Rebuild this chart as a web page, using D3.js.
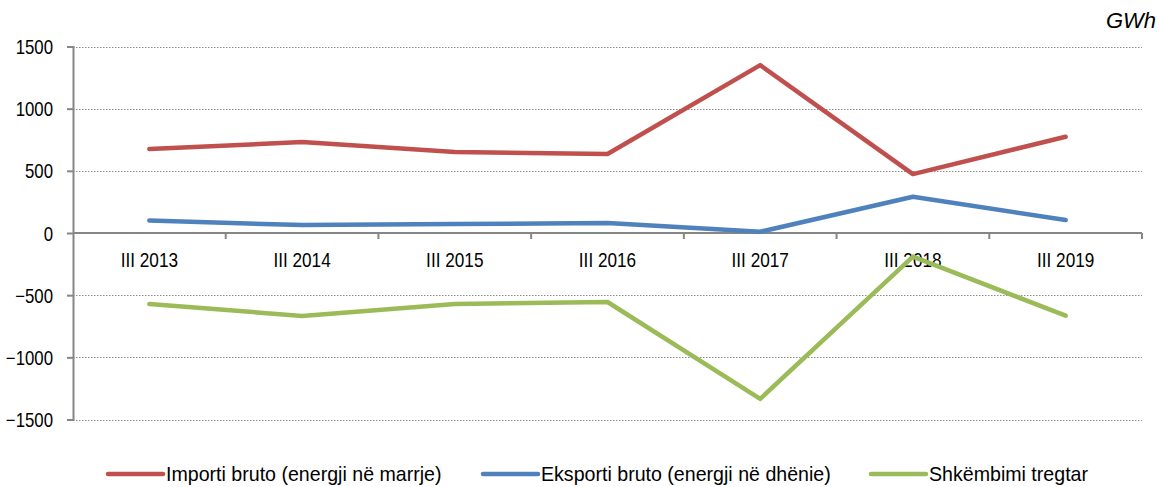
<!DOCTYPE html>
<html lang="en">
<head>
    <meta charset="utf-8">
    <title>Importi, eksporti dhe shkëmbimi</title>
    <script type="text/javascript" src="https://d3js.org/d3.v7.min.js"></script>
    <style type="text/css">
        body { margin: 0; background: #fff; }
        svg { font-family: "Liberation Sans", Arial, sans-serif; }
    </style>
</head>
<body>
<script type="text/javascript">

    var categories = ["III 2013", "III 2014", "III 2015", "III 2016", "III 2017", "III 2018", "III 2019"];
    var importi = [675, 731, 651, 635, 1350, 474, 774];
    var eksporti = [100, 64, 72, 80, 10, 292, 104];
    var shkembimi = [-571, -667, -571, -555, -1334, -190, -665];
    var yTicks = [-1500, -1000, -500, 0, 500, 1000, 1500];
    var seriesNames = ["Importi bruto (energji në marrje)", "Eksporti bruto (energji në dhënie)", "Shkëmbimi tregtar"];

    var width = 1159, height = 487;
    var plotLeft = 73, plotRight = 1142, plotTop = 46.5, plotBottom = 419.5;
    var axisColor = "#868686";
    var colors = ["#C0504D", "#4F81BD", "#9BBB59"];

    var svg = d3.select("body").append("svg")
        .attr("width", width)
        .attr("height", height);

    var x = d3.scaleBand().domain(categories).range([plotLeft, plotRight]);
    var y = d3.scaleLinear().domain([-1500, 1500]).range([plotBottom, plotTop]);

    // dotted gridlines
    svg.selectAll(".grid")
        .data(yTicks.filter(function(d) { return d !== 0; }))
        .enter().append("line")
        .attr("x1", plotLeft).attr("x2", plotRight)
        .attr("y1", function(d) { return Math.round(y(d)) + 0.5; })
        .attr("y2", function(d) { return Math.round(y(d)) + 0.5; })
        .attr("stroke", "#8c8c8c")
        .attr("stroke-width", 1)
        .attr("stroke-dasharray", "1.5,1.5");

    // y axis
    var yAxis = d3.axisLeft(y).tickValues(yTicks).tickSize(6).tickFormat(d3.format("d"));
    var gy = svg.append("g").attr("transform", "translate(" + plotLeft + ",0)").call(yAxis);
    gy.select(".domain").attr("stroke", axisColor).attr("stroke-width", 2);
    gy.selectAll(".tick line").attr("stroke", axisColor).attr("stroke-width", 2);
    // narrow-looking labels: squeeze horizontally
    gy.selectAll(".tick text")
        .attr("x", null).attr("dy", null)
        .attr("transform", "translate(-20,7) scale(0.84,1)")
        .attr("font-size", 20).attr("fill", "#000")
        .attr("font-family", "'Liberation Sans', Arial, sans-serif");

    // x axis at zero
    var gx = svg.append("g").attr("transform", "translate(0," + y(0) + ")");
    gx.append("line").attr("x1", plotLeft).attr("x2", plotRight)
        .attr("stroke", axisColor).attr("stroke-width", 2);
    var bounds = categories.map(function(c) { return x(c) + x.bandwidth(); });
    gx.selectAll(".xt").data(bounds).enter().append("line")
        .attr("x1", function(d) { return d; }).attr("x2", function(d) { return d; })
        .attr("y1", 0).attr("y2", 6)
        .attr("stroke", axisColor).attr("stroke-width", 2);
    gx.selectAll(".xl").data(categories).enter().append("text")
        .attr("transform", function(d) {
            return "translate(" + (x(d) + x.bandwidth() / 2) + ",34) scale(0.86,1)";
        })
        .attr("text-anchor", "middle")
        .attr("font-size", 20)
        .text(function(d) { return d; });

    // lines
    var line = d3.line()
        .x(function(d, i) { return x(categories[i]) + x.bandwidth() / 2; })
        .y(function(d) { return y(d); });

    [importi, eksporti, shkembimi].forEach(function(s, i) {
        svg.append("path")
            .datum(s)
            .attr("d", line)
            .attr("fill", "none")
            .attr("stroke", colors[i])
            .attr("stroke-width", 4.5)
            .attr("stroke-linecap", "round")
            .attr("stroke-linejoin", "round");
    });

    // unit label
    svg.append("text")
        .attr("x", 1156).attr("y", 28)
        .attr("text-anchor", "end")
        .attr("font-size", 22)
        .attr("font-style", "italic")
        .text("GWh");

    // legend
    var legendX = [108, 483, 871];
    var lg = svg.selectAll(".legend").data(seriesNames).enter().append("g")
        .attr("transform", function(d, i) { return "translate(" + legendX[i] + ",474)"; });
    lg.append("line")
        .attr("x1", 0).attr("x2", 55)
        .attr("stroke", function(d, i) { return colors[i]; })
        .attr("stroke-width", 4.5)
        .attr("stroke-linecap", "round");
    lg.append("text")
        .attr("transform", "translate(58,7) scale(0.98,1)")
        .attr("font-size", 20)
        .text(function(d) { return d; });

</script>
</body>
</html>
